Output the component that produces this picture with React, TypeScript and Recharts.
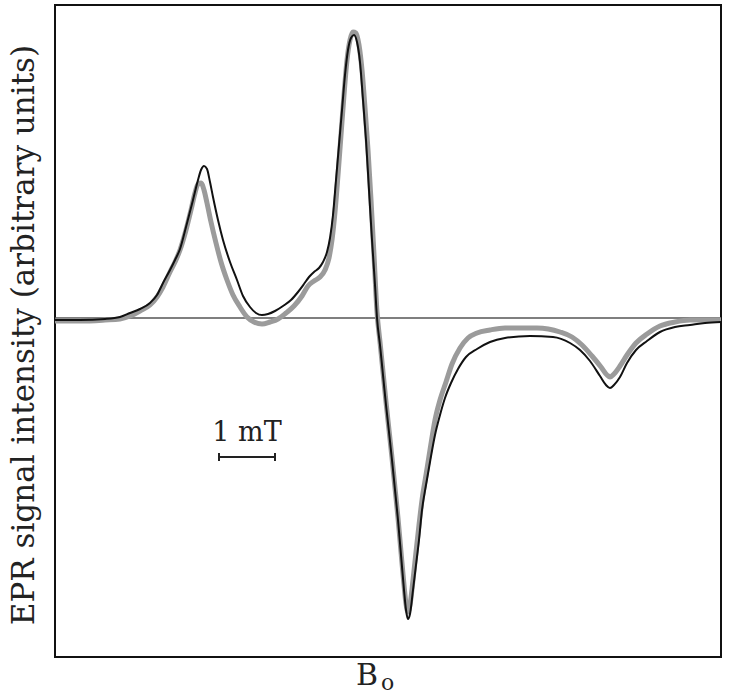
import React from 'react';
import {
  LineChart,
  Line,
  XAxis,
  YAxis,
  ReferenceLine,
  ReferenceArea,
} from 'recharts';

// field in arbitrary units (56 units = 1 mT), intensity in arbitrary units
const expField = [
  0, 25, 50, 65, 75, 85, 95, 102, 108, 115, 120, 125, 131, 138, 143, 146, 149, 152, 155, 158,
  163, 168, 175, 182, 188, 195, 201, 207, 213, 220, 228, 236, 243, 249, 254, 259, 264, 268, 272,
  275, 278, 281, 284, 287, 290, 293, 296, 299, 302, 305, 308, 311, 314, 317, 320, 322, 325, 328,
  331, 334, 337, 340, 343, 346, 349, 351, 353, 355, 358, 361, 364, 367, 371, 375, 380, 385, 390,
  396, 403, 411, 422, 435, 450, 475, 498, 515, 525, 535, 545, 551, 555, 559, 565, 572, 581, 592,
  605, 620, 635, 650, 666,
];
const expSignal = [
  -2, -2, -1, 1, 5, 9, 15, 23, 35, 48, 58, 69, 91, 118, 138, 148, 152, 149, 136, 121,
  98, 78, 56, 38, 22, 11, 5, 3, 4, 7, 12, 18, 26, 34, 41, 46, 50, 56, 66,
  80, 103, 138, 173, 208, 243, 268, 280, 283, 276, 256, 218, 178, 128, 78, 33, 0, -27, -57,
  -87, -114, -142, -172, -202, -237, -272, -292, -301, -296, -272, -247, -222, -192, -167, -144, -117, -97, -80,
  -65, -51, -39, -31, -24, -20, -18, -19, -25, -32, -43, -58, -67, -70, -67, -59, -45, -32, -23,
  -14, -9, -7, -5, -4,
];

const simField = [
  0, 25, 50, 65, 75, 85, 95, 102, 108, 115, 120, 125, 131, 136, 140, 143, 146, 149, 152, 156,
  161, 166, 172, 178, 185, 192, 199, 207, 215, 223, 231, 239, 247, 253, 259, 265, 270, 274, 277,
  280, 283, 286, 289, 292, 295, 298, 301, 304, 307, 310, 313, 316, 319, 322, 325, 328, 331, 334,
  337, 340, 343, 346, 349, 351, 353, 355, 358, 361, 364, 367, 371, 375, 380, 385, 391, 397, 405,
  413, 422, 435, 450, 482, 505, 517, 527, 537, 546, 552, 555, 559, 565, 572, 581, 592, 605, 620,
  635, 650, 666,
];
const simSignal = [
  -3, -3, -2, -1, 2, 7, 13, 21, 31, 46, 56, 68, 88, 108, 125, 134, 135, 128, 115, 96,
  75, 56, 38, 23, 11, 1, -4, -6, -4, -1, 5, 12, 22, 32, 37, 41, 48, 60, 78,
  106, 143, 183, 223, 258, 278, 286, 285, 273, 248, 210, 168, 118, 63, 6, -24, -54, -84, -112,
  -140, -170, -200, -234, -267, -286, -294, -287, -262, -234, -207, -182, -157, -132, -102, -82, -64, -46, -30,
  -20, -15, -12, -10, -10, -14, -19, -27, -38, -49, -57, -59, -56, -48, -37, -25, -16, -8, -4,
  -2, -2, -2,
];

const fieldDomain = [0, 666];
const signalDomain = [-339, 313];
const scaleBarStart = 164;
const scaleBarEnd = 220; // 1 mT
const scaleBarLevel = -139;

const expData = expField.map((f, i) => ({ field: f, signal: expSignal[i] }));
const simData = simField.map((f, i) => ({ field: f, signal: simSignal[i] }));

const serif = '"DejaVu Serif", serif';

export default function App(): React.ReactElement {
  return (
    <div style={{ position: 'absolute', left: 0, top: 0, width: 729, height: 697, background: '#fff' }}>
      <LineChart width={729} height={697} margin={{ top: 5, right: 8, bottom: 40, left: 55 }}>
        <XAxis type="number" dataKey="field" domain={fieldDomain} hide allowDataOverflow />
        <YAxis type="number" dataKey="signal" domain={signalDomain} hide allowDataOverflow />
        <ReferenceLine y={0} stroke="#555" strokeWidth={1.3} />
        <Line
          data={simData}
          dataKey="signal"
          type="monotone"
          stroke="#9b9b9b"
          strokeWidth={5}
          dot={false}
          isAnimationActive={false}
        />
        <Line
          data={expData}
          dataKey="signal"
          type="monotone"
          stroke="#111"
          strokeWidth={2}
          dot={false}
          isAnimationActive={false}
        />
        {/* 1 mT scale bar */}
        <ReferenceLine
          segment={[
            { x: scaleBarStart, y: scaleBarLevel },
            { x: scaleBarEnd, y: scaleBarLevel },
          ]}
          stroke="#222"
          strokeWidth={2}
        />
        <ReferenceLine
          segment={[
            { x: scaleBarStart, y: scaleBarLevel + 4 },
            { x: scaleBarStart, y: scaleBarLevel - 4 },
          ]}
          stroke="#222"
          strokeWidth={2}
        />
        <ReferenceLine
          segment={[
            { x: scaleBarEnd, y: scaleBarLevel + 4 },
            { x: scaleBarEnd, y: scaleBarLevel - 4 },
          ]}
          stroke="#222"
          strokeWidth={2}
        />
        <ReferenceArea
          x1={fieldDomain[0]}
          x2={fieldDomain[1]}
          y1={signalDomain[0]}
          y2={signalDomain[1]}
          fill="none"
          fillOpacity={0}
          stroke="#111"
          strokeWidth={2}
        />
      </LineChart>
      <svg
        width={729}
        height={697}
        style={{ position: 'absolute', left: 0, top: 0, pointerEvents: 'none' }}
      >
        <text
          x={0}
          y={0}
          transform="translate(34,335) rotate(-90)"
          textAnchor="middle"
          fontFamily={serif}
          fontSize={31}
          fill="#222"
        >
          EPR signal intensity (arbitrary units)
        </text>
        <text x={247} y={441} textAnchor="middle" fontFamily={serif} fontSize={27} fill="#222">
          1 mT
        </text>
        <text x={356} y={685} fontFamily={serif} fontSize={30} fill="#222">
          B
        </text>
        <text x={381} y={690} fontFamily={serif} fontSize={22} fill="#222">
          o
        </text>
      </svg>
    </div>
  );
}
